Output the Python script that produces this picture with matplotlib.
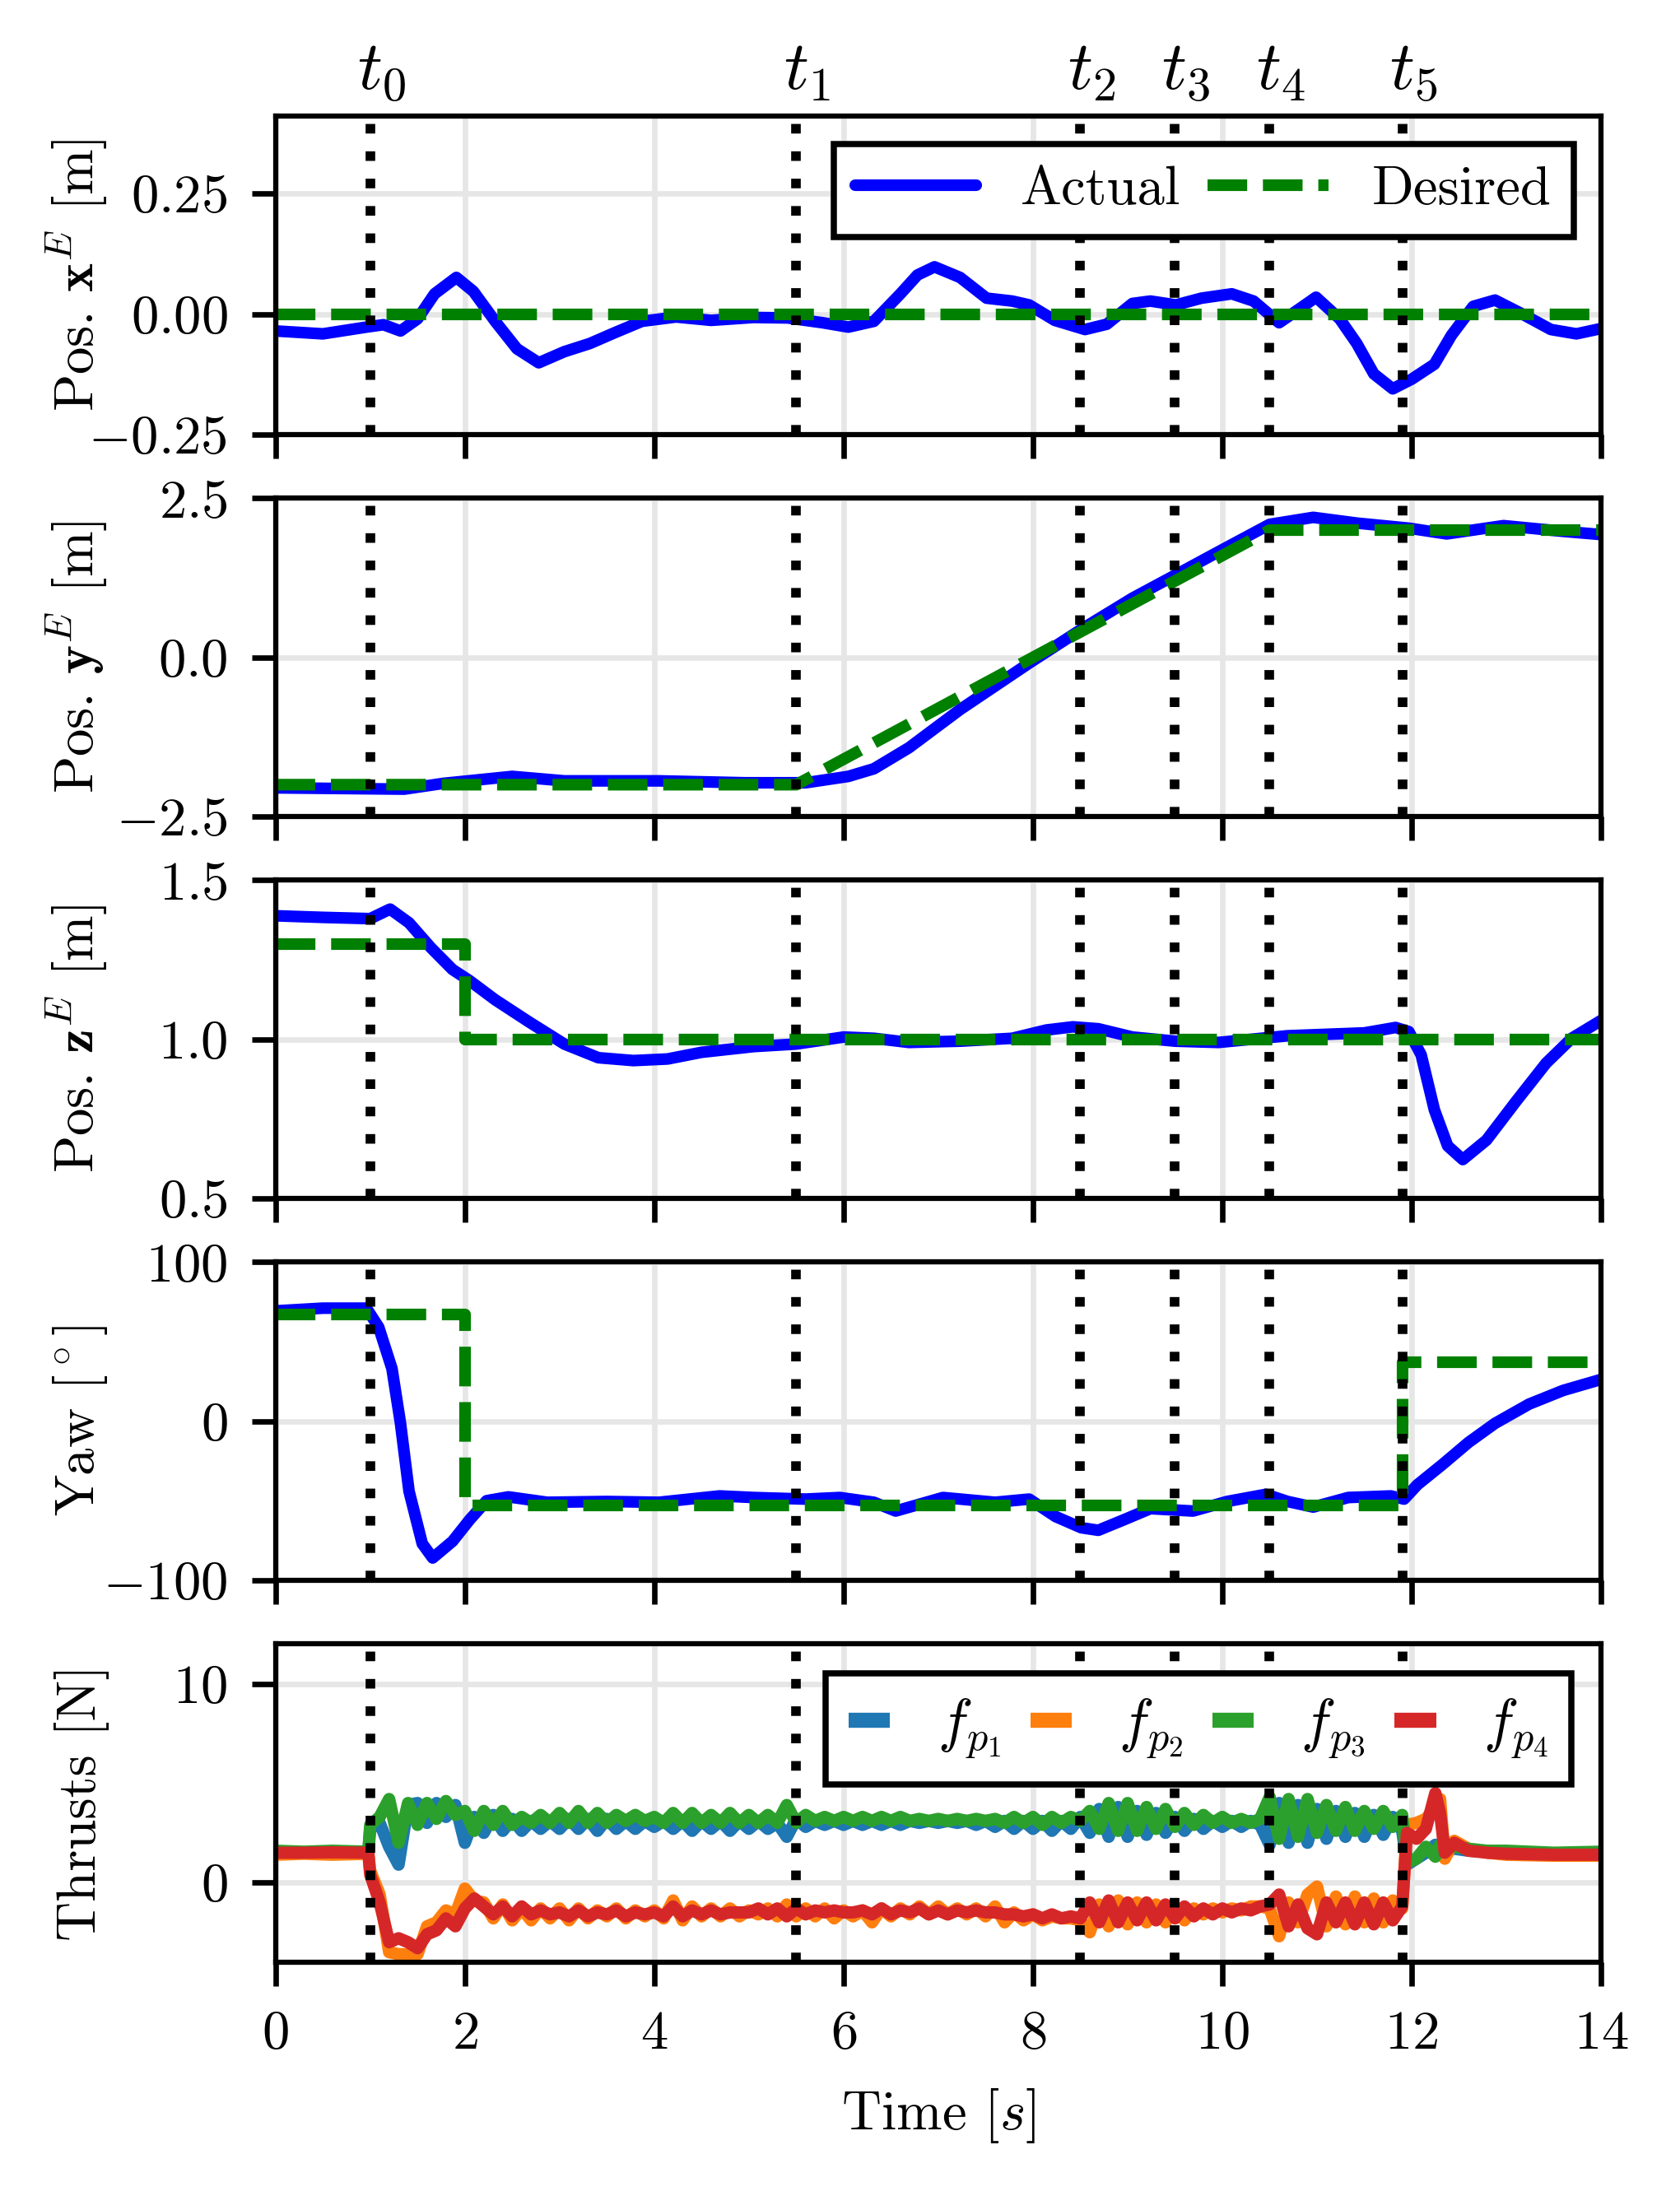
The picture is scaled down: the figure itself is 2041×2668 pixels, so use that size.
import numpy as np
import matplotlib
matplotlib.use("Agg")
import matplotlib.pyplot as plt
from matplotlib.transforms import blended_transform_factory, ScaledTranslation

plt.rcParams.update({
    "font.family": "serif",
    "font.serif": ["cmr10"],
    "mathtext.fontset": "cm",
    "axes.formatter.use_mathtext": True,
    "font.size": 8,
    "axes.linewidth": 0.75,
    "legend.fontsize": 8,
})

# ---------------- data ----------------
events = [1.0, 5.5, 8.5, 9.5, 10.5, 11.9]
event_labels = ["$t_0$", "$t_1$", "$t_2$", "$t_3$", "$t_4$", "$t_5$"]

# Position x
t_xa = [0, 0.5, 0.96, 1.14, 1.32, 1.5, 1.68, 1.91, 2.09, 2.32,
        2.55, 2.78, 3.05, 3.32, 3.59, 3.87, 4.23, 4.6, 5.05, 5.41,
        5.78, 6.05, 6.32, 6.6, 6.78, 6.96, 7.23, 7.51, 7.78, 7.96,
        8.23, 8.55, 8.78, 9.05, 9.24, 9.51, 9.78, 10.1, 10.33, 10.6,
        10.83, 10.99, 11.24, 11.42, 11.6, 11.8, 12.0, 12.24, 12.42, 12.65,
        12.88, 13.15, 13.47, 13.74, 14.0]
x_act = [-0.035, -0.041, -0.027, -0.022, -0.035, -0.010, 0.042, 0.076, 0.047, -0.015,
         -0.072, -0.101, -0.078, -0.061, -0.038, -0.015, -0.006, -0.013, -0.007, -0.008,
         -0.018, -0.027, -0.015, 0.042, 0.081, 0.098, 0.076, 0.033, 0.027, 0.019,
         -0.013, -0.032, -0.021, 0.022, 0.027, 0.019, 0.033, 0.042, 0.027, -0.018,
         0.013, 0.035, -0.010, -0.061, -0.124, -0.155, -0.135, -0.104, -0.044, 0.016,
         0.029, 0.002, -0.032, -0.041, -0.030]
t_xd = [0, 14]
x_des = [0.0, 0.0]

# Position y
t_ya = [0, 0.68, 1.36, 1.77, 2.5, 3.05, 4.05, 4.96, 5.6, 6.05, 6.32, 6.69, 7.23,
        7.96, 8.5, 9.05, 9.5, 9.96, 10.5, 10.96, 11.42, 11.97, 12.37, 12.97, 13.6, 14.0]
y_act = [-2.05, -2.06, -2.07, -1.98, -1.87, -1.94, -1.94, -1.97, -1.97, -1.87, -1.75, -1.42, -0.82,
         -0.09, 0.43, 0.93, 1.29, 1.66, 2.09, 2.20, 2.11, 2.03, 1.94, 2.07, 1.98, 1.93]
t_yd = [0, 5.5, 10.5, 14]
y_des = [-2.0, -2.0, 2.0, 2.0]

# Position z
t_za = [0, 0.5, 1.0, 1.21, 1.41, 1.64, 1.87, 2.05, 2.32, 2.68,
        3.05, 3.41, 3.78, 4.14, 4.5, 5.05, 5.5, 6.0, 6.32, 6.69,
        7.23, 7.78, 8.14, 8.42, 8.69, 9.05, 9.5, 9.96, 10.69, 11.5,
        11.83, 11.97, 12.1, 12.24, 12.38, 12.54, 12.79, 13.1, 13.42, 13.69, 14.0]
z_act = [1.388, 1.383, 1.379, 1.409, 1.366, 1.288, 1.219, 1.184, 1.124, 1.054,
         0.985, 0.942, 0.933, 0.938, 0.959, 0.977, 0.985, 1.007, 1.003, 0.990,
         0.994, 1.003, 1.029, 1.039, 1.033, 1.007, 0.994, 0.990, 1.011, 1.020,
         1.037, 1.024, 0.951, 0.778, 0.665, 0.622, 0.683, 0.804, 0.925, 1.003, 1.059]
t_zd = [0, 2.0, 2.0, 14]
z_des = [1.3, 1.3, 1.0, 1.0]

# Yaw
t_yawa = [0, 0.5, 0.96, 1.09, 1.23, 1.32, 1.41, 1.55, 1.66, 1.87,
          2.05, 2.23, 2.46, 2.87, 3.5, 4.05, 4.69, 5.05, 5.6, 5.96,
          6.32, 6.55, 7.05, 7.6, 7.96, 8.24, 8.51, 8.69, 8.96, 9.24,
          9.69, 10.05, 10.46, 10.69, 10.96, 11.33, 11.78, 11.92, 12.06, 12.33,
          12.6, 12.88, 13.24, 13.6, 14.0]
yaw_act = [69.3, 71, 71, 59, 33, -1.4, -44, -77, -86, -75.5,
           -62, -50, -47.6, -51, -50.5, -51, -47, -48, -49, -48,
           -51, -56.5, -48, -51, -49, -60, -67, -68.6, -62, -55,
           -56.5, -50.5, -46, -50.5, -54, -48, -47, -49, -40, -27,
           -13.4, -1.4, 10.7, 19.3, 26.2]
t_yawd = [0, 2.0, 2.0, 11.9, 11.9, 14]
yaw_des = [67, 67, -53, -53, 37, 37]

# Thrusts
thrust_t = ([0.0, 0.3, 0.6, 0.98]
            + [round(1.0 + 0.1 * k, 2) for k in range(110)]
            + [11.95, 12.05, 12.15, 12.25, 12.3, 12.35, 12.45, 12.6, 12.8, 13.0, 13.5, 14.0])

f_p1 = ([1.55, 1.5, 1.55, 1.5]
        + [2.7, 3.0, 1.8, 0.9, 3.9, 4.0, 3.0, 4.0, 3.3, 3.9,
           2.0, 3.3, 2.5, 3.4, 2.6, 3.2, 2.6, 3.1, 2.7, 3.1,
           2.7, 3.2, 2.7, 3.2, 2.6, 3.2, 2.7, 3.1, 2.7, 3.1,
           2.8, 3.1, 2.7, 3.1, 2.6, 3.1, 2.7, 3.1, 2.6, 3.1,
           2.7, 3.1, 2.7, 3.0, 2.3, 3.2, 2.8, 3.1, 2.9, 3.1,
           2.9, 3.1, 2.9, 3.1, 2.9, 3.1, 2.9, 3.1, 3.0, 3.1,
           3.0, 3.1, 3.0, 3.1, 2.9, 3.1, 2.8, 3.1, 2.7, 3.1,
           2.7, 3.1, 2.6, 3.1, 2.7, 3.3, 2.5, 3.7, 2.3, 3.8,
           2.3, 3.6, 2.4, 3.5, 2.5, 3.3, 2.6, 3.2, 2.7, 3.1,
           2.8, 3.1, 2.8, 3.1, 2.9, 1.9, 4.0, 2.0, 3.9, 2.0,
           3.7, 2.2, 3.6, 2.3, 3.5, 2.3, 3.4, 2.4, 3.3, 2.6]
        + [0.9, 1.2, 1.5, 1.9, 1.8, 1.6, 1.7, 1.6, 1.55, 1.5, 1.45, 1.5])

f_p2 = ([1.4, 1.45, 1.4, 1.45]
        + [0.6, -0.6, -3.5, -3.6, -3.6, -3.6, -2.2, -2.0, -1.4, -1.6,
           -0.3, -0.9, -1.0, -1.8, -1.1, -1.9, -1.3, -1.9, -1.3, -1.8,
           -1.3, -1.9, -1.3, -1.8, -1.4, -1.7, -1.3, -1.8, -1.4, -1.7,
           -1.4, -1.8, -0.9, -1.9, -1.2, -1.7, -1.3, -1.7, -1.3, -1.7,
           -1.4, -1.6, -1.3, -1.7, -1.1, -1.7, -1.3, -1.7, -1.3, -1.8,
           -1.4, -1.7, -1.4, -2.0, -1.3, -1.7, -1.3, -1.6, -1.2, -1.6,
           -1.2, -1.6, -1.3, -1.6, -1.3, -1.7, -1.2, -2.0, -1.5, -1.9,
           -1.6, -1.9, -1.7, -1.8, -1.8, -1.9, -2.5, -1.1, -2.2, -0.9,
           -2.1, -1.0, -2.0, -1.1, -2.0, -1.2, -1.9, -1.3, -1.6, -1.3,
           -1.5, -1.3, -1.4, -1.2, -1.2, -1.3, -2.7, -1.0, -2.0, -0.6,
           -0.2, -2.2, -0.7, -2.1, -0.7, -2.0, -0.8, -2.0, -0.9, -1.3]
        + [2.9, 3.0, 3.2, 3.8, 4.2, 1.2, 2.1, 1.7, 1.5, 1.4, 1.35, 1.35])

f_p3 = ([1.6, 1.55, 1.6, 1.55]
        + [2.9, 3.3, 4.2, 2.0, 4.0, 2.9, 4.0, 3.2, 4.1, 3.4,
           3.6, 2.6, 3.6, 2.9, 3.6, 2.9, 3.3, 3.0, 3.4, 3.0,
           3.5, 3.0, 3.6, 3.0, 3.5, 3.0, 3.4, 3.1, 3.4, 3.1,
           3.3, 3.0, 3.5, 3.0, 3.5, 3.0, 3.4, 3.0, 3.5, 3.0,
           3.4, 3.0, 3.4, 3.0, 3.9, 3.0, 3.4, 3.1, 3.3, 3.1,
           3.3, 3.1, 3.3, 3.1, 3.3, 3.1, 3.3, 3.1, 3.2, 3.1,
           3.2, 3.1, 3.2, 3.1, 3.2, 3.1, 3.2, 3.0, 3.3, 3.0,
           3.3, 2.9, 3.3, 3.0, 3.3, 3.1, 3.6, 2.7, 4.0, 2.6,
           4.0, 2.6, 3.8, 2.7, 3.7, 2.8, 3.5, 2.9, 3.4, 3.0,
           3.3, 3.0, 3.2, 3.0, 3.2, 4.3, 2.2, 4.2, 2.3, 4.2,
           2.5, 3.9, 2.6, 3.8, 2.6, 3.6, 2.7, 3.6, 2.8, 3.4]
        + [1.0, 1.2, 1.8, 1.3, 1.9, 1.8, 1.8, 1.7, 1.6, 1.6, 1.5, 1.55])

f_p4 = ([1.5, 1.5, 1.52, 1.5]
        + [0.4, -1.0, -3.0, -2.8, -3.0, -3.3, -2.6, -2.4, -1.8, -2.2,
           -1.3, -0.8, -1.2, -1.6, -1.2, -1.7, -1.2, -1.6, -1.4, -1.6,
           -1.5, -1.7, -1.4, -1.7, -1.5, -1.6, -1.4, -1.7, -1.5, -1.6,
           -1.5, -1.7, -1.2, -1.7, -1.4, -1.6, -1.4, -1.6, -1.5, -1.5,
           -1.5, -1.3, -1.6, -1.3, -1.7, -1.3, -1.6, -1.4, -1.5, -1.4,
           -1.5, -1.5, -1.4, -1.6, -1.3, -1.6, -1.4, -1.5, -1.3, -1.6,
           -1.4, -1.6, -1.4, -1.5, -1.4, -1.5, -1.5, -1.6, -1.6, -1.7,
           -1.6, -1.8, -1.6, -1.8, -1.7, -1.8, -1.0, -2.0, -0.9, -2.0,
           -1.0, -1.9, -1.0, -1.9, -1.1, -1.8, -1.2, -1.7, -1.3, -1.6,
           -1.3, -1.5, -1.3, -1.4, -1.2, -1.1, -0.6, -2.2, -1.1, -2.3,
           -2.6, -1.0, -2.0, -1.0, -2.1, -1.0, -2.1, -1.0, -1.9, -1.2]
        + [2.5, 2.2, 2.7, 4.5, 3.5, 1.5, 2.0, 1.6, 1.5, 1.45, 1.4, 1.4])

# ---------------- figure ----------------
fig, axes = plt.subplots(5, 1, figsize=(2041 / 600, 2668 / 600), dpi=600)
fig.subplots_adjust(left=0.164, right=0.953, top=0.947, bottom=0.1065, hspace=0.2)

act_kw = dict(color="blue", lw=1.7, label="Actual", zorder=2,
              solid_joinstyle="round", solid_capstyle="round")
des_kw = dict(color="green", lw=1.7, dashes=(3.4, 1.35), label="Desired", zorder=2)

ax = axes[0]
ax.plot(t_xa, x_act, **act_kw)
ax.plot(t_xd, x_des, **des_kw)
ax.set_ylim(-0.25, 0.41)
ax.set_yticks([-0.25, 0.0, 0.25])
ax.set_ylabel(r"Pos. $\mathbf{x}^E$ [m]")
leg = ax.legend(loc="upper right", ncol=2, fancybox=False, edgecolor="black",
                framealpha=1, handlelength=2.2, columnspacing=0.5, handletextpad=0.8)
leg.get_frame().set_linewidth(0.9)

ax = axes[1]
ax.plot(t_ya, y_act, **act_kw)
ax.plot(t_yd, y_des, **des_kw)
ax.set_ylim(-2.5, 2.5)
ax.set_yticks([-2.5, 0.0, 2.5])
ax.set_ylabel(r"Pos. $\mathbf{y}^E$ [m]")

ax = axes[2]
ax.plot(t_za, z_act, **act_kw)
ax.plot(t_zd, z_des, **des_kw)
ax.set_ylim(0.5, 1.5)
ax.set_yticks([0.5, 1.0, 1.5])
ax.set_ylabel(r"Pos. $\mathbf{z}^E$ [m]")

ax = axes[3]
ax.plot(t_yawa, yaw_act, **act_kw)
ax.plot(t_yawd, yaw_des, **des_kw)
ax.set_ylim(-100, 100)
ax.set_yticks([-100, 0, 100])
ax.set_ylabel(r"Yaw [$^\circ$]")

ax = axes[4]
colors = ["tab:blue", "tab:orange", "tab:green", "tab:red"]
labels = ["$f_{p_1}$", "$f_{p_2}$", "$f_{p_3}$", "$f_{p_4}$"]
for series, c, lab in zip([f_p1, f_p2, f_p3, f_p4], colors, labels):
    ax.plot(thrust_t, series, color=c, lw=1.8, label=lab, zorder=2,
            solid_joinstyle="round")
ax.set_ylim(-4, 12)
ax.set_yticks([0, 10])
ax.set_ylabel("Thrusts [N]")
ax.set_xlabel(r"Time [$s$]")
leg = ax.legend(loc="upper right", ncol=4, fancybox=False, edgecolor="black",
                framealpha=1, handlelength=0.7, columnspacing=0.5, handletextpad=0.8,
                prop={"size": 8.6})
leg.get_frame().set_linewidth(0.9)
for ln in leg.get_lines():
    ln.set_linewidth(2.2)
    ln.set_solid_capstyle("butt")

for i, ax in enumerate(axes):
    ax.set_xlim(0, 14)
    ax.set_xticks(range(0, 15, 2))
    ax.grid(True, color="#e6e6e6", lw=0.8, zorder=0)
    ax.set_axisbelow(True)
    for ev in events:
        ax.axvline(ev, color="black", lw=1.4, dashes=(1.0, 1.85), zorder=3)
    if i < 4:
        ax.tick_params(labelbottom=False)
    ax.yaxis.set_label_coords(-0.125, 0.5)

# event labels on top
ax0 = axes[0]
trans = blended_transform_factory(ax0.transData, ax0.transAxes) + \
    ScaledTranslation(1.6 / 72, 2.0 / 72, fig.dpi_scale_trans)
for ev, lab in zip(events, event_labels):
    ax0.text(ev, 1.0, lab, transform=trans, ha="center", va="bottom", fontsize=10)

fig.savefig("out.png", dpi=600)
